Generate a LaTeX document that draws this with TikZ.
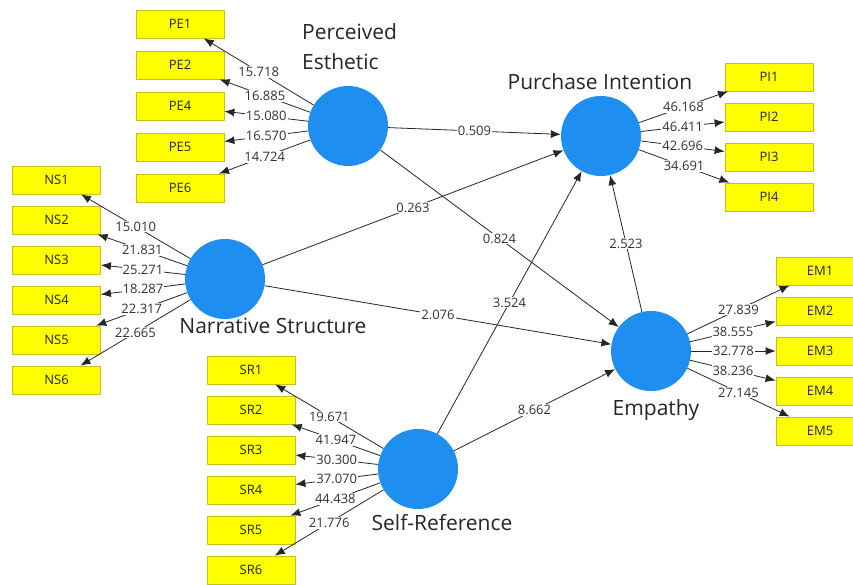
\documentclass[tikz,border=0pt]{standalone}
\usepackage{fontspec}
\setmainfont{Open Sans}
\usetikzlibrary{arrows.meta}
\definecolor{plsblue}{RGB}{30,143,240}
\definecolor{plsyellow}{RGB}{255,255,0}
\definecolor{plsedge}{RGB}{200,190,30}
\definecolor{plstext}{RGB}{50,50,50}
\tikzset{
  latent/.style={circle,fill=plsblue,minimum size=80pt,inner sep=0pt},
  indicator/.style={rectangle,fill=plsyellow,draw=plsedge,line width=0.8pt,minimum width=88pt,minimum height=28pt,inner sep=0pt,text=black!85,font=\fontsize{13}{14}\selectfont},
  lvname/.style={inner sep=0pt,text=black!85,font=\fontsize{21}{30}\selectfont},
  coef/.style={fill=white,inner sep=1pt,text=plstext,font=\fontsize{13}{14}\selectfont},
  relation/.style={-{Latex[length=10pt,width=8pt]},line width=0.8pt,draw=black!85},
  loading/.style={relation}
}

\begin{document}
\begin{tikzpicture}[x=1pt,y=-1pt]
       \fill[white] (0,0) rectangle (853,585);
       \clip (0,0) rectangle (853,585);

       % latent variables
       \node[latent] (pe) at (348,126) {};
       \node[latent] (ns) at (225,279) {};
       \node[latent] (sr) at (418,469) {};
       \node[latent] (pi) at (601,136) {};
       \node[latent] (em) at (651,351) {};

       \node[lvname,anchor=base west,align=left] (pe-name) at (302,70) {Perceived\\Esthetic};
       \node[lvname,anchor=base] (ns-name) at (273,333) {Narrative Structure};
       \node[lvname,anchor=base] (sr-name) at (442,530) {Self-Reference};
       \node[lvname,anchor=base] (pi-name) at (600,90) {Purchase Intention};
       \node[lvname,anchor=base] (em-name) at (656,415) {Empathy};

       % indicators
       \foreach \n/\y in {1/24,2/65,4/106,5/147,6/188}
         \node[indicator] (pe\n) at (180,\y) {PE\n};
       \foreach \n in {1,...,6}
         \node[indicator] (ns\n) at (56.5,140+40*\n) {NS\n};
       \foreach \n in {1,...,6}
         \node[indicator] (sr\n) at (251,330+40*\n) {SR\n};
       \foreach \n in {1,...,4}
         \node[indicator] (pi\n) at (769,37+40*\n) {PI\n};
       \foreach \n in {1,...,5}
         \node[indicator] (em\n) at (820,231+40*\n) {EM\n};

       % outer loadings
       \foreach \n/\v in {1/15.718,2/16.885,4/15.080,5/16.570,6/14.724}
         \draw[loading] (pe) -- node[coef] {\v} (pe\n);
       \foreach \n/\v in {1/15.010,2/21.831,3/25.271,4/18.287,5/22.317,6/22.665}
         \draw[loading] (ns) -- node[coef] {\v} (ns\n);
       \foreach \n/\v in {1/19.671,2/41.947,3/30.300,4/37.070,5/44.438,6/21.776}
         \draw[loading] (sr) -- node[coef] {\v} (sr\n);
       \foreach \n/\v in {1/46.168,2/46.411,3/42.696,4/34.691}
         \draw[loading] (pi) -- node[coef] {\v} (pi\n);
       \foreach \n/\v in {1/27.839,2/38.555,3/32.778,4/38.236,5/27.145}
         \draw[loading] (em) -- node[coef] {\v} (em\n);

       % inner model
       \draw[relation] (pe) -- node[coef] {0.509} (pi);
       \draw[relation] (pe) -- node[coef] {0.824} (em);
       \draw[relation] (ns) -- node[coef] {0.263} (pi);
       \draw[relation] (ns) -- node[coef] {2.076} (em);
       \draw[relation] (sr) -- node[coef] {3.524} (pi);
       \draw[relation] (sr) -- node[coef] {8.662} (em);
       \draw[relation] (em) -- node[coef] {2.523} (pi);
     \end{tikzpicture}
\end{document}
